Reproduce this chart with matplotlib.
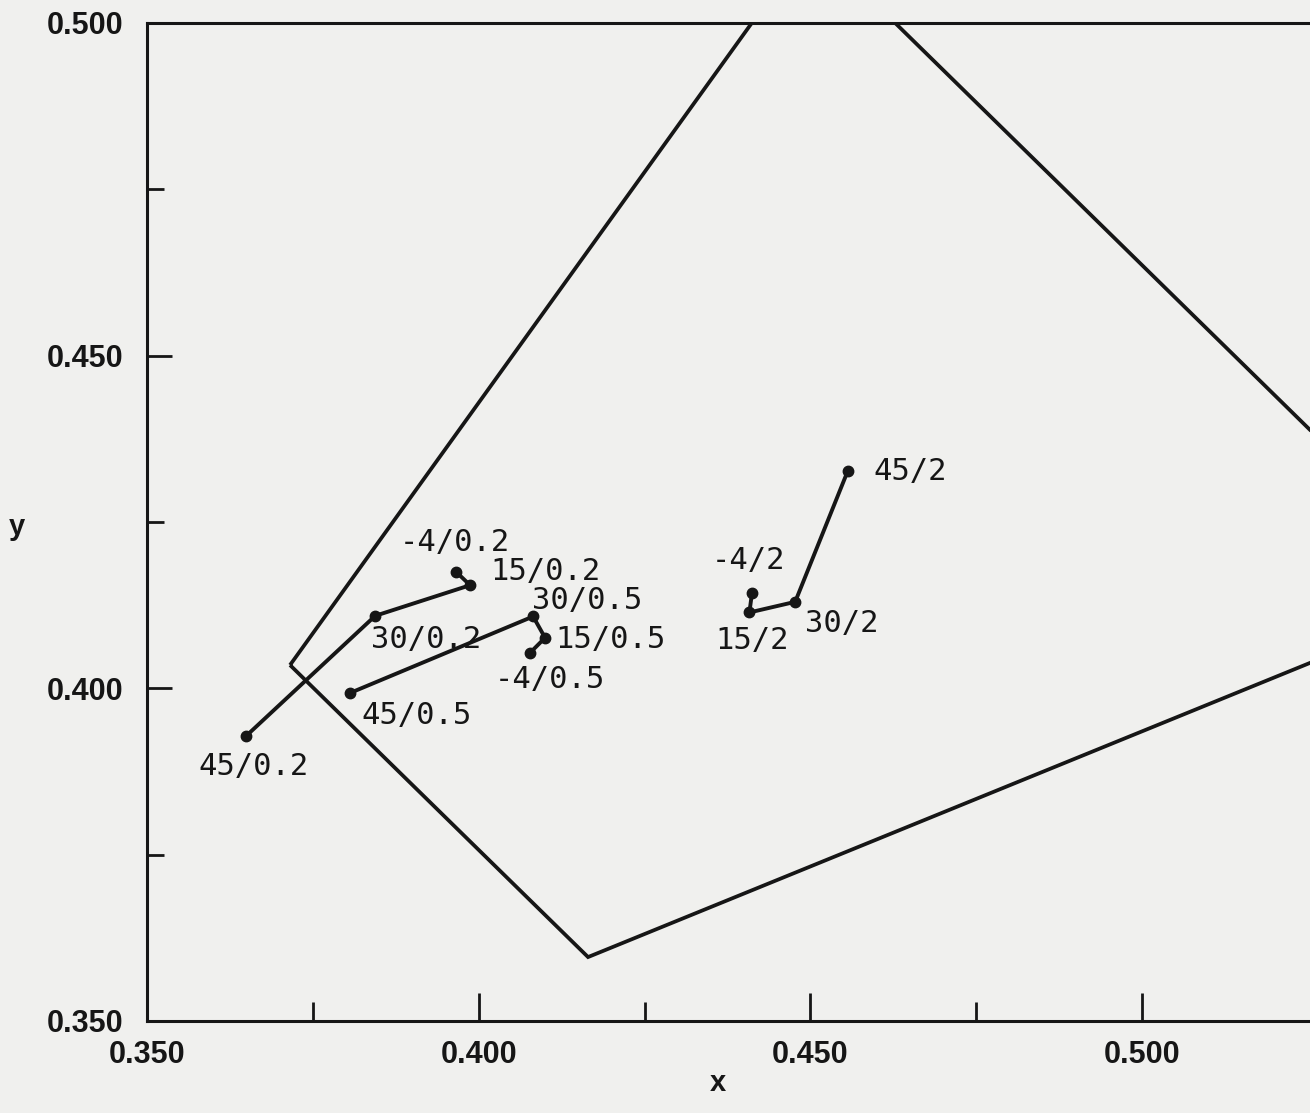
import matplotlib
matplotlib.use("Agg")
import matplotlib.pyplot as plt
from matplotlib.ticker import FixedLocator, FuncFormatter

# Chromaticity coordinates (x, y) at four temperatures for three levels
temps = [45, 30, 15, -4]
levels = ["0.2", "0.5", "2"]
x_02 = [0.3649, 0.3844, 0.3987, 0.3966]
y_02 = [0.3928, 0.4109, 0.4155, 0.4175]
x_05 = [0.3806, 0.4082, 0.4100, 0.4077]
y_05 = [0.3993, 0.4108, 0.4076, 0.4053]
x_2 = [0.4556, 0.4477, 0.4408, 0.4412]
y_2 = [0.4326, 0.4130, 0.4114, 0.4144]

# Boundary of the acceptance region
region_x = [0.37156, 0.4501, 0.5506, 0.41648]
region_y = [0.40350, 0.5124, 0.4141, 0.35961]

x_major = [0.350, 0.400, 0.450, 0.500]
x_minor = [0.375, 0.425, 0.475]
y_major = [0.350, 0.400, 0.450, 0.500]
y_minor = [0.375, 0.425, 0.475]

# Label offsets (points) from each point, per level, per temperature
label_offsets = [
    [(5.8, -28.1), (36.7, -23.0), (54.0, 3.4), (-0.7, 14.7)],
    [(48.2, -22.3), (38.9, 5.5), (46.8, -7.2), (14.4, -25.2)],
    [(45.4, -6.5), (33.8, -21.6), (2.2, -26.6), (-2.9, 16.6)],
]

INK = "#161616"
BG = "#f0f0ee"
TICK_FONT = ["Liberation Sans", "DejaVu Sans"]
LABEL_FONT = ["DejaVu Sans Mono"]

fig = plt.figure(figsize=(13.10, 11.13), dpi=100, facecolor=BG)
ax = fig.add_axes([147 / 1310, 92 / 1113, 1163 / 1310, 998 / 1113])
ax.set_facecolor(BG)
ax.set_xlim(0.350, 0.5253)
ax.set_ylim(0.350, 0.500)

# Region outline
ax.fill(region_x, region_y, facecolor="none", edgecolor=INK, linewidth=2.7,
        joinstyle="miter", zorder=2)

series = [(x_02, y_02), (x_05, y_05), (x_2, y_2)]
for (xs, ys), lvl, offs in zip(series, levels, label_offsets):
    ax.plot(xs, ys, color=INK, linewidth=2.8, marker="o", markersize=7.5,
            solid_joinstyle="miter", zorder=3)
    for xv, yv, t, (dx, dy) in zip(xs, ys, temps, offs):
        ax.annotate(f"{t}/{lvl}", (xv, yv), xytext=(dx, dy),
                    textcoords="offset points", ha="center", va="baseline",
                    fontsize=22, family=LABEL_FONT, color=INK, zorder=4)

# Axes styling
for side in ("left", "bottom", "top"):
    ax.spines[side].set_linewidth(2.2)
    ax.spines[side].set_color(INK)
ax.spines["right"].set_visible(False)

fmt = FuncFormatter(lambda v, p: f"{v:.3f}")
ax.xaxis.set_major_locator(FixedLocator(x_major))
ax.xaxis.set_minor_locator(FixedLocator(x_minor))
ax.yaxis.set_major_locator(FixedLocator(y_major))
ax.yaxis.set_minor_locator(FixedLocator(y_minor))
ax.xaxis.set_major_formatter(fmt)
ax.yaxis.set_major_formatter(fmt)

ax.tick_params(axis="x", which="major", direction="in", length=20, width=2,
               color=INK, pad=14, top=False)
ax.tick_params(axis="x", which="minor", direction="in", length=14, width=2,
               color=INK, top=False)
ax.tick_params(axis="y", which="major", direction="in", length=18, width=2,
               color=INK, pad=17, right=False)
ax.tick_params(axis="y", which="minor", direction="in", length=12, width=2,
               color=INK, right=False)
for lab in ax.get_xticklabels() + ax.get_yticklabels():
    lab.set_fontfamily(TICK_FONT)
    lab.set_fontweight("bold")
    lab.set_fontsize(22)
    lab.set_color(INK)

fig.text(718 / 1310, 1 - 1083 / 1113, "x", ha="center", va="center",
         fontsize=21, fontweight="bold", family=TICK_FONT, color=INK)
fig.text(17 / 1310, 1 - 527 / 1113, "y", ha="center", va="center",
         fontsize=21, fontweight="bold", family=TICK_FONT, color=INK)

fig.savefig("out.png", dpi=100, facecolor=BG)
